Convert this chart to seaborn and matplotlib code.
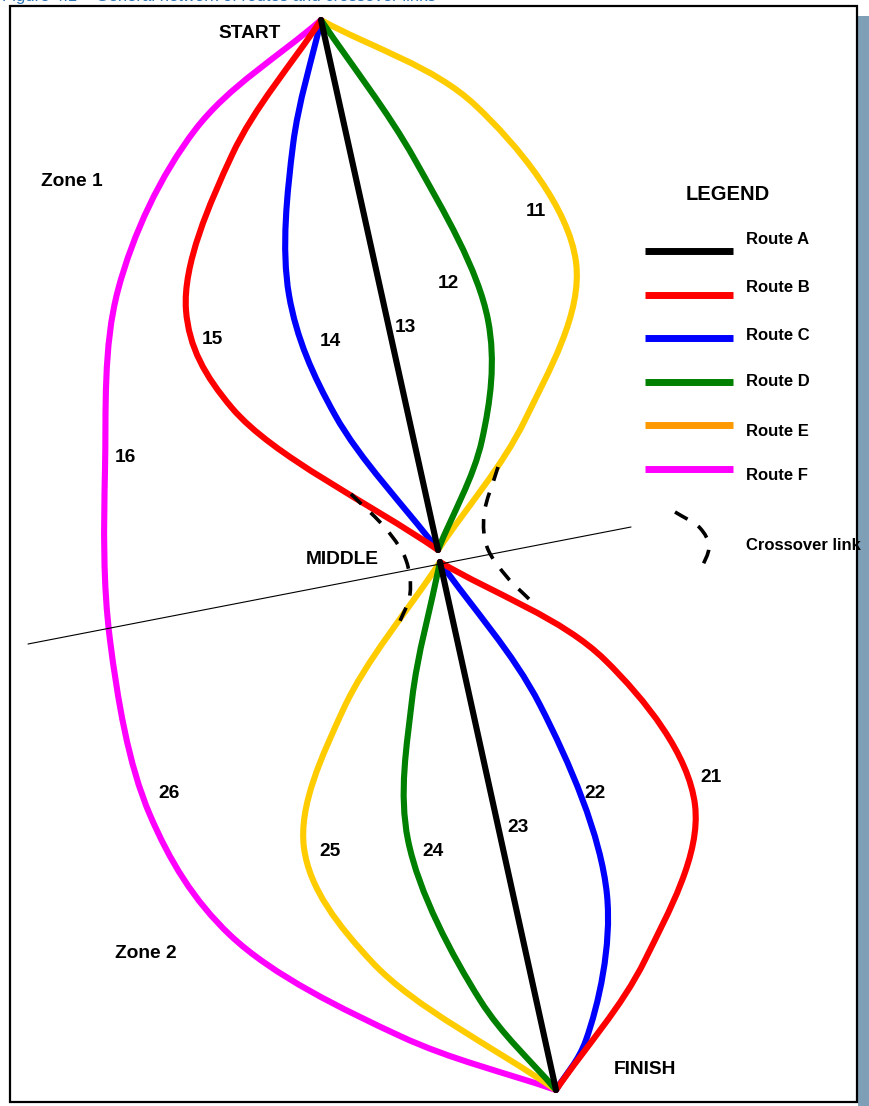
import numpy as np
import matplotlib
matplotlib.use("Agg")
import matplotlib.pyplot as plt
from matplotlib.path import Path
from matplotlib.patches import PathPatch, Rectangle
import seaborn as sns

sns.set_style("white")
plt.rcParams['font.family'] = ['Liberation Sans', 'DejaVu Sans']
plt.rcParams['text.color'] = 'black'

# ----- Data (diagram coordinates in picture pixels) -----
start = (321, 20)
middle_top = (438, 550)
middle_bot = (440, 562)
finish = (556, 1090)

# waypoints of each route, zone 1 (start -> middle) and zone 2 (middle -> finish)
route_a_1 = [start, middle_top]
route_a_2 = [middle_bot, finish]
route_b_1 = [start, (232, 155), (186, 310), (232, 408), middle_top]
route_b_2 = [middle_bot, (605, 660), (695, 805), (645, 960), finish]
route_c_1 = [start, (293, 145), (289, 295), (335, 415), middle_top]
route_c_2 = [middle_bot, (540, 705), (607, 895), (586, 1040), finish]
route_d_1 = [start, (415, 160), (488, 320), (482, 440), middle_top]
route_d_2 = [middle_bot, (412, 700), (408, 840), (480, 1000), finish]
route_e_1 = [start, (475, 105), (576, 262), (525, 420), middle_top]
route_e_2 = [middle_bot, (343, 710), (304, 848), (372, 962), finish]
route_f = [start, (195, 130), (118, 290), (105, 470), (110, 640), (150, 815), (230, 935), (400, 1036), finish]

route_names = ['Route A', 'Route B', 'Route C', 'Route D', 'Route E', 'Route F']
route_colors = ['#000000', '#FF0000', '#0000FF', '#008000', '#FFCC00', '#FF00FF']
legend_colors = ['#000000', '#FF0000', '#0000FF', '#008000', '#FF9900', '#FF00FF']

# segment numbers and where they sit
seg_labels = ['11', '12', '13', '14', '15', '16', '21', '22', '23', '24', '25', '26']
seg_pos = [(536, 211), (448, 283), (405, 327), (330, 341), (212, 340), (125, 458),
           (711, 778), (595, 793), (518, 828), (433, 851), (330, 851), (169, 793)]

zone_line = [(28, 644), (631, 527)]
cross_left = [(351, 494), (387, 530), (406, 560), (410, 594), (397, 628)]
cross_right = [(498, 467), (484, 515), (487, 547), (507, 577), (529, 599)]
cross_legend = [(675, 512), (700, 528), (709, 546), (700, 572)]


def smooth_path(pts, alpha=0.5):
    # centripetal Catmull-Rom waypoints turned into cubic bezier control points
    p = np.array(pts, dtype=float)
    p = np.vstack([2 * p[0] - p[1], p, 2 * p[-1] - p[-2]])
    verts = [tuple(p[1])]
    codes = [Path.MOVETO]
    for i in range(1, len(p) - 2):
        p0, p1, p2, p3 = p[i - 1], p[i], p[i + 1], p[i + 2]
        d0 = max(np.linalg.norm(p1 - p0) ** alpha, 1e-6)
        d1 = max(np.linalg.norm(p2 - p1) ** alpha, 1e-6)
        d2 = max(np.linalg.norm(p3 - p2) ** alpha, 1e-6)
        m1 = ((p1 - p0) / d0 - (p2 - p0) / (d0 + d1) + (p2 - p1) / d1) * d1
        m2 = ((p2 - p1) / d1 - (p3 - p1) / (d1 + d2) + (p3 - p2) / d2) * d1
        verts += [tuple(p1 + m1 / 3), tuple(p2 - m2 / 3), tuple(p2)]
        codes += [Path.CURVE4] * 3
    return Path(verts, codes)


def draw_route(ax, pts, color, lw=4.4, **kw):
    ax.add_patch(PathPatch(smooth_path(pts), facecolor='none', edgecolor=color,
                           lw=lw, capstyle='round', joinstyle='round', **kw))


fig = plt.figure(figsize=(8.69, 11.06), dpi=100)
ax = fig.add_axes([0, 0, 1, 1])
ax.set_xlim(0, 869)
ax.set_ylim(1106, 0)
ax.axis('off')

# frame and shadow
ax.add_patch(Rectangle((858, 16), 11, 1090, facecolor='#7F9FB7', edgecolor='none'))
ax.add_patch(Rectangle((10, 6), 847, 1096, facecolor='white', edgecolor='black', lw=1.6))
ax.text(2, -3, 'Figure 4.1    General network of routes and crossover links', color='#2E74B5',
        fontsize=12, va='center', ha='left', clip_on=False)

# zone divider
sns.lineplot(x=[p[0] for p in zone_line], y=[p[1] for p in zone_line], ax=ax,
             color='black', lw=0.8, sort=False)

# routes
draw_route(ax, route_f, route_colors[5])
draw_route(ax, route_e_1, route_colors[4])
draw_route(ax, route_e_2, route_colors[4])
draw_route(ax, route_d_1, route_colors[3])
draw_route(ax, route_d_2, route_colors[3])
for seg in (route_a_1, route_a_2):
    sns.lineplot(x=[p[0] for p in seg], y=[p[1] for p in seg], ax=ax,
                 color=route_colors[0], lw=4.4, sort=False)
draw_route(ax, route_c_1, route_colors[2])
draw_route(ax, route_c_2, route_colors[2])
draw_route(ax, route_b_1, route_colors[1])
draw_route(ax, route_b_2, route_colors[1])

# crossover links
for c in (cross_left, cross_right, cross_legend):
    ax.add_patch(PathPatch(smooth_path(c), facecolor='none', edgecolor='black',
                           lw=2.6, linestyle=(0, (4, 3.5))))

# labels
bold = dict(fontweight='bold', fontsize=13.8, ha='center', va='center')
for lab, (x, y) in zip(seg_labels, seg_pos):
    ax.text(x, y, lab, **bold)
ax.text(250, 34, 'START', **bold)
ax.text(72, 181, 'Zone 1', **bold)
ax.text(146, 953, 'Zone 2', **bold)
ax.text(342, 559, 'MIDDLE', **bold)
ax.text(645, 1070, 'FINISH', **bold)

# legend
ax.text(728, 195, 'LEGEND', fontweight='bold', fontsize=14.5, ha='center', va='center')
leg_y = [251, 295, 338, 382, 425, 469]
txt_y = [239, 287, 335, 382, 431, 475]
for name, col, ly, ty in zip(route_names, legend_colors, leg_y, txt_y):
    sns.lineplot(x=[645, 733], y=[ly, ly], ax=ax, color=col, lw=5, sort=False,
                 solid_capstyle='butt')
    ax.text(746, ty, name, fontweight='bold', fontsize=12, ha='left', va='center')
ax.text(746, 546, 'Crossover link', fontweight='bold', fontsize=12, ha='left', va='center',
        clip_path=Rectangle((0, 0), 857, 1106, transform=ax.transData))

fig.savefig('out.png', dpi=100)
